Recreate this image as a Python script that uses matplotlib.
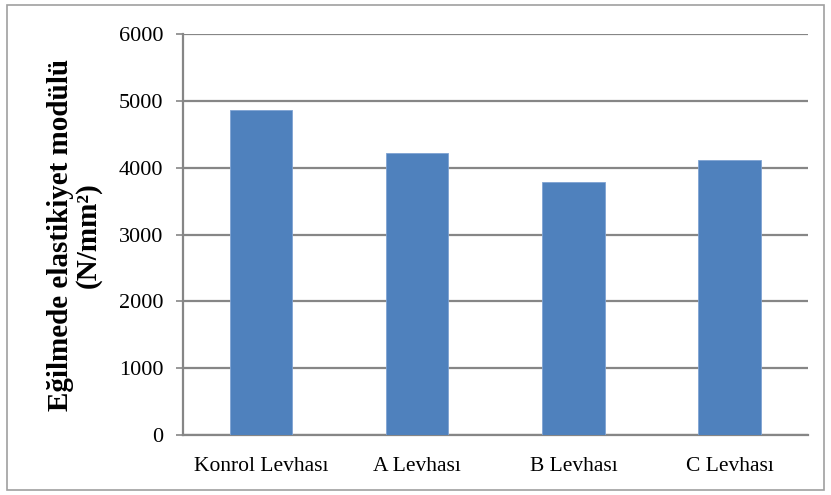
import matplotlib.pyplot as plt
from matplotlib.patches import Rectangle
from numpy import arange

levhalar=['Konrol Levhası','A Levhası','B Levhası','C Levhası']
modul=[4865,4225,3785,4120]
yticks=[0,1000,2000,3000,4000,5000,6000]

plt.rcParams['font.family']=['Liberation Serif','DejaVu Serif']

fig=plt.figure(figsize=(8.31,4.95),dpi=100)
ax=fig.add_axes([0.220,0.121,0.752,0.810])

x_pos=arange(len(levhalar))
ax.bar(x_pos,modul,width=0.4,color='#4F81BD',edgecolor='#7FA3D3',linewidth=0.6,zorder=3)

ax.set_xlim(-0.5,len(levhalar)-0.5)
ax.set_ylim(0,6000)
ax.set_yticks(yticks)
ax.set_xticks(x_pos)
ax.set_xticklabels(levhalar,fontsize=15.5)
ax.tick_params(axis='y',labelsize=16,length=5,width=1.2,color='#868686',direction='out',pad=9)
ax.tick_params(axis='x',length=0,pad=16)
ax.yaxis.grid(True,color='#868686',linewidth=1.6,zorder=0)

for s in ['top','right']:
    ax.spines[s].set_visible(False)
for s in ['left','bottom']:
    ax.spines[s].set_color('#868686')
    ax.spines[s].set_linewidth(1.6)

ax.set_ylabel('Eğilmede elastikiyet modülü\n(N/mm²)',fontsize=21,fontweight='bold',labelpad=12,linespacing=1.05)

# gray frame around the chart
fig.patches.append(Rectangle((0.008,0.01),0.984,0.98,transform=fig.transFigure,
                             fill=False,edgecolor='#A0A0A0',linewidth=1.2))

plt.savefig('out.png',dpi=100)
